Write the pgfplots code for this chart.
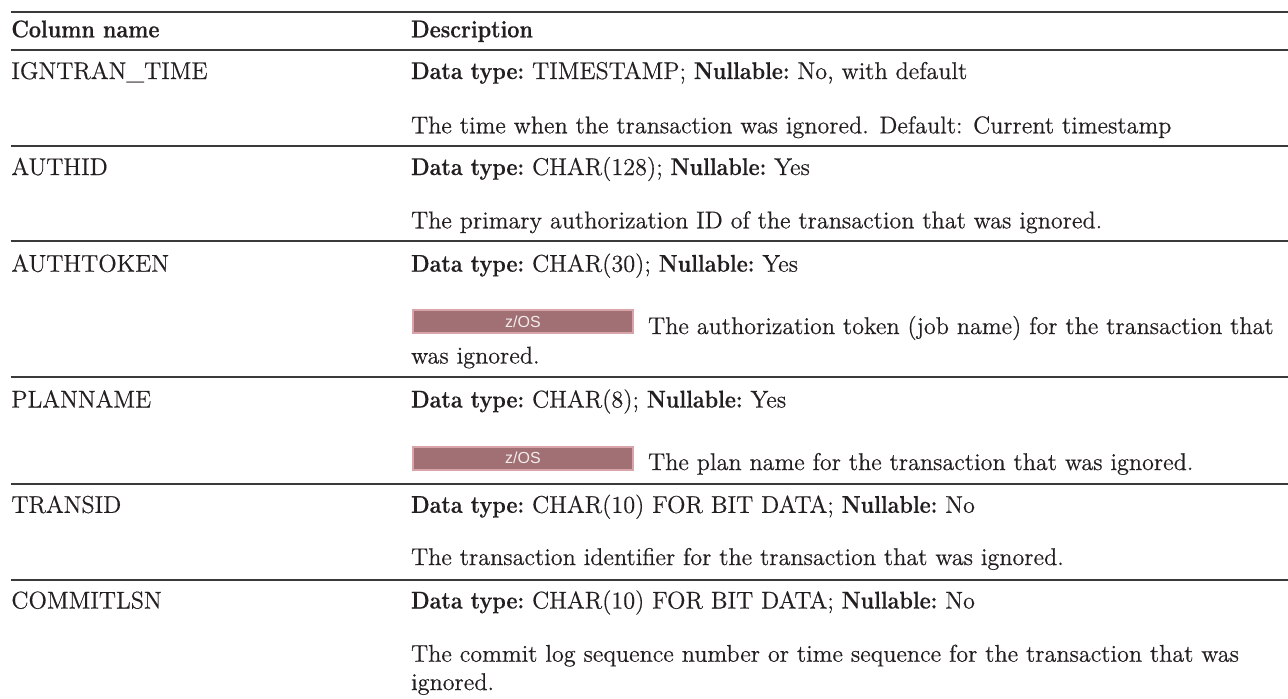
\documentclass[border=0pt]{standalone}
\usepackage{fontspec}
\setmainfont{Latin Modern Roman}[RawFeature={embolden=0.5}]
\usepackage{pgfplots}
\pgfplotsset{compat=1.18}
\newfontfamily\badgefont{Liberation Sans}
\definecolor{txt}{HTML}{231F20}
\definecolor{rulec}{HTML}{3A3A3A}
\definecolor{badgefill}{HTML}{A07074}
\definecolor{badgeedge}{HTML}{D9A3AA}
\definecolor{badgetxt}{HTML}{F4ECEC}
\newcommand{\B}[1]{\scalebox{0.89}[1]{\bfseries #1}}
\newcommand{\T}{\fontsize{12.1}{14}\selectfont\color{txt}}
\begin{document}
\begin{tikzpicture}
\begin{axis}[width=644pt,height=349pt,scale only axis,
  xmin=0,xmax=1288,ymin=0,ymax=698,y dir=reverse,hide axis,clip=false]
% rules
\addplot[rulec,line width=1pt] coordinates {(10.7,12.3) (1288,12.3)};
\addplot[rulec,line width=1pt] coordinates {(10.7,50) (1288,50)};
\addplot[rulec,line width=1pt] coordinates {(10.7,145.7) (1288,145.7)};
\addplot[rulec,line width=1pt] coordinates {(10.7,241) (1288,241)};
\addplot[rulec,line width=1pt] coordinates {(10.7,377) (1288,377)};
\addplot[rulec,line width=1pt] coordinates {(10.7,484) (1288,484)};
\addplot[rulec,line width=1pt] coordinates {(10.7,579.5) (1288,579.5)};
% badges
\addplot[fill=badgefill,draw=badgeedge,line width=1pt] coordinates {(413.3,310.3) (632.7,310.3) (632.7,333.3) (413.3,333.3)} -- cycle;
\addplot[fill=badgefill,draw=badgeedge,line width=1pt] coordinates {(413.3,447) (632.7,447) (632.7,469.5) (413.3,469.5)} -- cycle;
\node[anchor=base,inner sep=0] at (axis cs:523,327) {\badgefont\fontsize{8}{9}\selectfont\color{badgetxt}z/OS};
\node[anchor=base,inner sep=0] at (axis cs:523,463.5) {\badgefont\fontsize{8}{9}\selectfont\color{badgetxt}z/OS};
% header
\node[anchor=base west,inner sep=0] at (axis cs:11,37.3) {\T\B{Column name}};
\node[anchor=base west,inner sep=0] at (axis cs:410.7,37.3) {\T\B{Description}};
% row 1
\node[anchor=base west,inner sep=0] at (axis cs:11,79) {\T IGNTRAN\_TIME};
\node[anchor=base west,inner sep=0] at (axis cs:410.7,79) {\T\B{Data type:} TIMESTAMP; \B{Nullable:} No, with default};
\node[anchor=base west,inner sep=0] at (axis cs:410.7,133.3) {\T The time when the transaction was ignored. Default: Current timestamp};
% row 2
\node[anchor=base west,inner sep=0] at (axis cs:11,175) {\T AUTHID};
\node[anchor=base west,inner sep=0] at (axis cs:410.7,175) {\T\B{Data type:} CHAR(128); \B{Nullable:} Yes};
\node[anchor=base west,inner sep=0] at (axis cs:410.7,228.3) {\T The primary authorization ID of the transaction that was ignored.};
% row 3
\node[anchor=base west,inner sep=0] at (axis cs:11,271.7) {\T AUTHTOKEN};
\node[anchor=base west,inner sep=0] at (axis cs:410.7,271.7) {\T\B{Data type:} CHAR(30); \B{Nullable:} Yes};
\node[anchor=base west,inner sep=0] at (axis cs:647.7,334) {\T The authorization token (job name) for the transaction that};
\node[anchor=base west,inner sep=0] at (axis cs:410.7,363.5) {\T was ignored.};
% row 4
\node[anchor=base west,inner sep=0] at (axis cs:11,407.5) {\T PLANNAME};
\node[anchor=base west,inner sep=0] at (axis cs:410.7,407.5) {\T\B{Data type:} CHAR(8); \B{Nullable:} Yes};
\node[anchor=base west,inner sep=0] at (axis cs:647.7,470) {\T The plan name for the transaction that was ignored.};
% row 5
\node[anchor=base west,inner sep=0] at (axis cs:11,512.8) {\T TRANSID};
\node[anchor=base west,inner sep=0] at (axis cs:410.7,512.8) {\T\B{Data type:} CHAR(10) FOR BIT DATA; \B{Nullable:} No};
\node[anchor=base west,inner sep=0] at (axis cs:410.7,565) {\T The transaction identifier for the transaction that was ignored.};
% row 6
\node[anchor=base west,inner sep=0] at (axis cs:11,608.5) {\T COMMITLSN};
\node[anchor=base west,inner sep=0] at (axis cs:410.7,608.5) {\T\B{Data type:} CHAR(10) FOR BIT DATA; \B{Nullable:} No};
\node[anchor=base west,inner sep=0] at (axis cs:410.7,661.7) {\T The commit log sequence number or time sequence for the transaction that was};
\node[anchor=base west,inner sep=0] at (axis cs:410.7,690) {\T ignored.};
\end{axis}
\pgfresetboundingbox
\path[use as bounding box] (current axis.south west) rectangle (current axis.north east);
\end{tikzpicture}
\end{document}
